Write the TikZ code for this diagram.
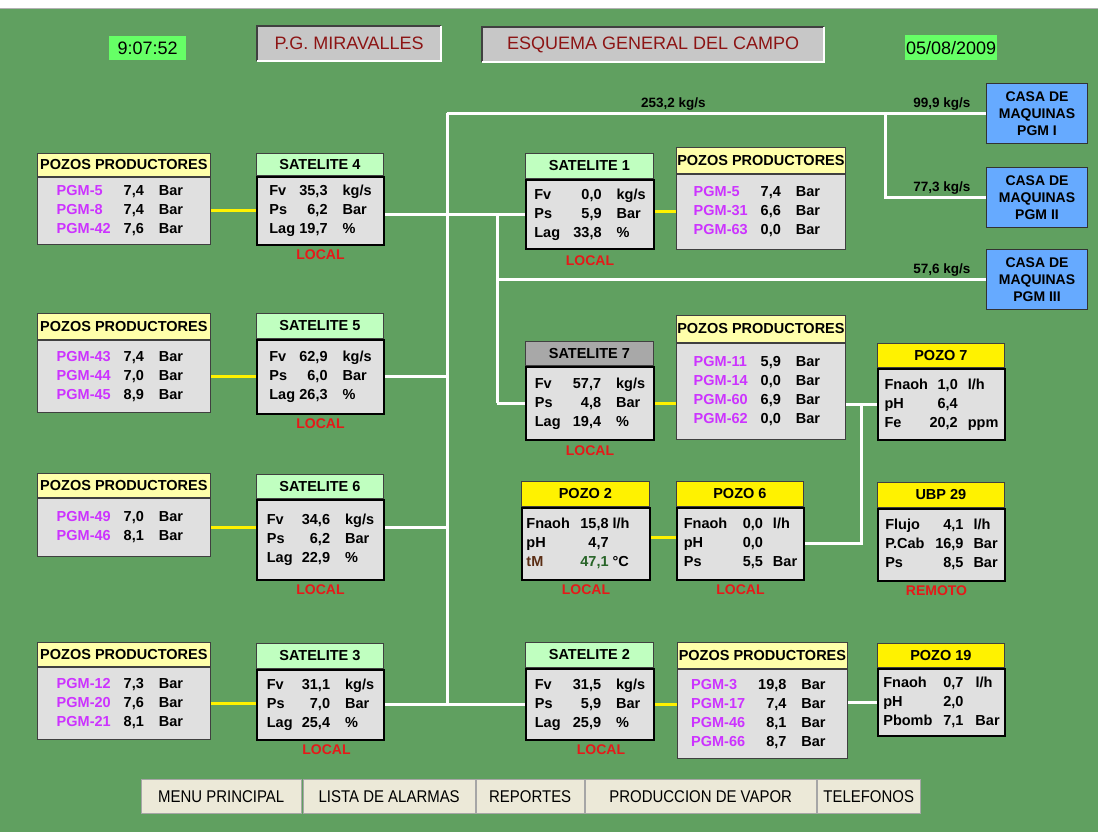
\documentclass[tikz,border=0pt]{standalone}
\usepackage{fontspec}
\setmainfont{Liberation Sans}
\newfontfamily\narrowfont[FakeStretch=0.88]{Liberation Sans}
\usetikzlibrary{positioning}

\definecolor{fondo}{RGB}{96,160,96}
\definecolor{ppamarillo}{RGB}{255,255,170}
\definecolor{satverde}{RGB}{192,255,192}
\definecolor{satgris}{RGB}{168,168,168}
\definecolor{cuerpo}{RGB}{224,224,224}
\definecolor{pgmmag}{RGB}{204,51,255}
\definecolor{rojolocal}{RGB}{230,25,25}
\definecolor{rojotitulo}{RGB}{140,20,20}
\definecolor{reloj}{RGB}{102,255,102}
\definecolor{casaazul}{RGB}{102,170,255}
\definecolor{botonbeige}{RGB}{236,233,216}
\definecolor{tmcafe}{RGB}{90,45,20}
\definecolor{tmverde}{RGB}{40,100,40}

\newcommand{\dfont}{\bfseries\fontsize{14.5}{19}\selectfont}
% filas de pozos y de satelites
\newcommand{\pozos}[1]{\begin{tabular}{@{}p{67pt}@{}r@{\hspace{15pt}}l@{\hspace{8pt}}}#1\end{tabular}}
\newcommand{\pgm}[2]{\textcolor{pgmmag}{PGM-#1}&#2&Bar\\}
\newcommand{\satdatos}[4]{\begin{tabular}{@{}p{#1}@{}r@{\hspace{15pt}}l@{}}Fv&#2&kg/s\\Ps&#3&Bar\\Lag&#4&\%\end{tabular}}
% caja: nombre, x, y, ancho, estilo, alto cabecera, titulo, alto cuerpo, datos
\newcommand{\caja}[9]{%
  \node[#5 head, minimum width=#4, minimum height=#6, anchor=north west] (#1h) at (#2,#3) {#7};
  \node[#5 body, minimum width=#4, minimum height=#8, anchor=north west] (#1b) at (#1h.south west) {#9};}

\tikzset{
  cab/.style={draw=black!75, line width=0.8, inner sep=0, font=\bfseries\fontsize{14.5}{16}\selectfont},
  pp head/.style={cab, fill=ppamarillo},
  sat head/.style={cab, fill=satverde},
  gris head/.style={cab, fill=satgris},
  pozo head/.style={cab, fill=yellow},
  pp body/.style={draw=black!75, line width=0.8, fill=cuerpo, inner sep=0, font=\dfont},
  sat body/.style={pp body, draw=black, line width=2},
  gris body/.style={sat body},
  pozo body/.style={sat body},
  estado/.style={text=rojolocal, font=\bfseries\fontsize{14}{16}\selectfont, inner sep=0},
  vapor/.style={white, line width=3},
  ramal/.style={yellow, line width=3},
  flujo/.style={text=black, font=\bfseries\fontsize{13.5}{16}\selectfont, inner sep=2},
  casa/.style={draw=black!80, fill=casaazul, line width=1, align=center, minimum width=101,
    minimum height=60, inner sep=0, font=\bfseries\fontsize{14}{17}\selectfont, anchor=north west},
  titulo/.style={fill=black!22, text=rojotitulo, font=\fontsize{18}{20}\selectfont, inner sep=0, anchor=north west},
  hora/.style={fill=reloj, font=\fontsize{18}{20}\selectfont, inner sep=0, anchor=north west},
  boton/.style={fill=botonbeige, draw=black!35, inner sep=0, minimum height=34, anchor=north west,
    font=\narrowfont\fontsize{17}{20}\selectfont},
}

\begin{document}
\begin{tikzpicture}
[x=1pt,y=-1pt]
\fill[fondo] (0,0) rectangle (1098,832);
\useasboundingbox (0,0) rectangle (1098,832);
\fill[white] (0,0) rectangle (1098,8);
\draw[black!30] (0,8) -- (1098,8);

% cabecera
\node[hora, minimum width=77, minimum height=24] (hora) at (109,36) {9:07:52};
\node[titulo, minimum width=184, minimum height=35] (central) at (257,26) {P.G. MIRAVALLES};
\node[titulo, minimum width=342, minimum height=35] (esquema) at (482,27) {ESQUEMA GENERAL DEL CAMPO};
\node[hora, minimum width=92, minimum height=25] (fecha) at (905,35) {05/08/2009};
\draw[black!75, line width=2] (central.south west) -- (central.north west) -- (central.north east);
\draw[white, line width=2] (central.north east) -- (central.south east) -- (central.south west);
\draw[black!75, line width=2] (esquema.south west) -- (esquema.north west) -- (esquema.north east);
\draw[white, line width=2] (esquema.north east) -- (esquema.south east) -- (esquema.south west);

% casas de maquinas
\node[casa] (casa1) at (986,83) {CASA DE\\MAQUINAS\\PGM I};
\node[casa] (casa2) at (986,167) {CASA DE\\MAQUINAS\\PGM II};
\node[casa] (casa3) at (986,249) {CASA DE\\MAQUINAS\\PGM III};

% columna izquierda
\caja{pp4}{37}{153}{173}{pp}{23}{POZOS PRODUCTORES}{67}{\pozos{\pgm{5}{7,4}\pgm{8}{7,4}\pgm{42}{7,6}}}
\caja{sat4}{256}{153}{127}{sat}{22}{SATELITE 4}{68}{\satdatos{30pt}{35,3}{6,2}{19,7}}
\caja{pp5}{37}{313}{173}{pp}{26}{POZOS PRODUCTORES}{72}{\pozos{\pgm{43}{7,4}\pgm{44}{7,0}\pgm{45}{8,9}}}
\caja{sat5}{256}{313}{127}{sat}{25}{SATELITE 5}{74}{\satdatos{30pt}{62,9}{6,0}{26,3}}
\caja{pp6}{37}{473}{173}{pp}{24}{POZOS PRODUCTORES}{58}{\pozos{\pgm{49}{7,0}\pgm{46}{8,1}}}
\caja{sat6}{256}{474}{127}{sat}{24}{SATELITE 6}{80}{\satdatos{35pt}{34,6}{6,2}{22,9}}
\caja{pp3}{37}{642}{173}{pp}{24}{POZOS PRODUCTORES}{72}{\pozos{\pgm{12}{7,3}\pgm{20}{7,6}\pgm{21}{8,1}}}
\caja{sat3}{256}{643}{127}{sat}{25}{SATELITE 3}{70}{\satdatos{35pt}{31,1}{7,0}{25,4}}

% columna central
\caja{sat1}{525}{153}{128}{sat}{25}{SATELITE 1}{69}{\satdatos{39pt}{0,0}{5,9}{33,8}}
\caja{pp1}{676}{147}{169}{pp}{26}{POZOS PRODUCTORES}{75}{\pozos{\pgm{5}{7,4}\pgm{31}{6,6}\pgm{63}{0,0}}}
\caja{sat7}{525}{341}{128}{gris}{24}{SATELITE 7}{73}{\satdatos{38pt}{57,7}{4,8}{19,4}}
\caja{pp7}{676}{315}{169}{pp}{27}{POZOS PRODUCTORES}{96}{\pozos{\pgm{11}{5,9}\pgm{14}{0,0}\pgm{60}{6,9}\pgm{62}{0,0}}}
\caja{pozo2}{521}{481}{128}{pozo}{25}{POZO 2}{72}{\begin{tabular}{@{}p{54pt}@{}r@{\hspace{4pt}}l@{\hspace{16pt}}}Fnaoh&15,8&l/h\\pH&4,7&\\\textcolor{tmcafe}{tM}&\textcolor{tmverde}{47,1}&°C\end{tabular}}
\caja{pozo6}{676}{481}{127}{pozo}{25}{POZO 6}{72}{\begin{tabular}{@{}p{59pt}@{}r@{\hspace{10pt}}l@{}}Fnaoh&0,0&l/h\\pH&0,0&\\Ps&5,5&Bar\end{tabular}}
\caja{sat2}{525}{642}{128}{sat}{25}{SATELITE 2}{71}{\satdatos{38pt}{31,5}{5,9}{25,9}}
\caja{pp2}{677}{642}{170}{pp}{26}{POZOS PRODUCTORES}{89}{\pozos{\pgm{3}{19,8}\pgm{17}{7,4}\pgm{46}{8,1}\pgm{66}{8,7}}}

% columna derecha
\caja{pozo7}{877}{343}{127}{pozo}{24}{POZO 7}{71}{\begin{tabular}{@{}p{45pt}@{}r@{\hspace{10pt}}l@{}}Fnaoh&1,0&l/h\\pH&6,4&\\Fe&20,2&ppm\end{tabular}}
\caja{ubp29}{877}{482}{127}{pozo}{25}{UBP 29}{72}{\begin{tabular}{@{}p{50pt}@{}r@{\hspace{10pt}}l@{}}Flujo&4,1&l/h\\P.Cab&16,9&Bar\\Ps&8,5&Bar\end{tabular}}
\caja{pozo19}{877}{643}{127}{pozo}{24}{POZO 19}{67}{\begin{tabular}{@{}p{60pt}@{}r@{\hspace{12pt}}l@{}}Fnaoh&0,7&l/h\\pH&2,0&\\Pbomb&7,1&Bar\end{tabular}}

% estados
\node[estado, below=4pt of sat4b] (sat4e) {LOCAL};
\node[estado, below=4pt of sat5b] (sat5e) {LOCAL};
\node[estado, below=4pt of sat6b] (sat6e) {LOCAL};
\node[estado, below=4pt of sat3b, xshift=6pt] (sat3e) {LOCAL};
\node[estado, below=6pt of sat1b] (sat1e) {LOCAL};
\node[estado, below=5pt of sat7b] (sat7e) {LOCAL};
\node[estado, below=4pt of pozo2b] (pozo2e) {LOCAL};
\node[estado, below=4pt of pozo6b] (pozo6e) {LOCAL};
\node[estado, below=4pt of ubp29b, xshift=-5pt] (ubp29e) {REMOTO};
\node[estado, below=4pt of sat2b, xshift=11pt] (sat2e) {LOCAL};

% lineas de vapor
\coordinate (x1) at (447,0);
\coordinate (x2) at (497,0);
\coordinate (x3) at (885,0);
\coordinate (x4) at (861,0);
\draw[vapor] (casa1.west -| x1) -- (sat3b.east -| x1);
\draw[vapor] (casa1.west -| x1) -- node[flujo, above, pos=.42]{253,2 kg/s}
  node[flujo, at end, anchor=south east, xshift=-12pt]{99,9 kg/s} (casa1.west);
\draw[vapor] (casa1.west -| x3) |- node[flujo, at end, anchor=south east, xshift=-12pt]{77,3 kg/s} (casa2.west);
\draw[vapor] (sat1b.west -| x2) -- (sat7b.west -| x2);
\draw[vapor] (casa3.west -| x2) -- node[flujo, at end, anchor=south east, xshift=-12pt]{57,6 kg/s} (casa3.west);
\draw[vapor] (sat4b.east |- sat1b.west) -- (sat1b.west);
\draw[vapor] (sat5b.east) -- (sat5b.east -| x1);
\draw[vapor] (sat6b.east |- pp6b.east) -- (pp6b.east -| x1);
\draw[vapor] (sat3b.east) -- (sat3b.east -| sat2b.west);
\draw[vapor] (sat7b.west -| x2) -- (sat7b.west);
\draw[vapor] (pp7b.east |- pozo7b.west) -- (pozo7b.west);
\draw[vapor] (pozo6b.east) -| (x4 |- pozo7b.west);
\draw[vapor] (pp2b.east |- pozo19b.west) -- (pozo19b.west);

% ramales de pozos
\draw[ramal] (pp4b.east) -- (pp4b.east -| sat4b.west);
\draw[ramal] (pp5b.east) -- (pp5b.east -| sat5b.west);
\draw[ramal] (pp6b.east) -- (pp6b.east -| sat6b.west);
\draw[ramal] (pp3b.east) -- (pp3b.east -| sat3b.west);
\draw[ramal] (sat1b.east |- pp1b.west) -- (pp1b.west);
\draw[ramal] (sat7b.east) -- (sat7b.east -| pp7b.west);
\draw[ramal] (sat2b.east) -- (sat2b.east -| pp2b.west);
\draw[ramal] ([yshift=6pt]pozo2b.east) -- ([yshift=6pt]pozo6b.west);

% botones
\node[boton, minimum width=160] (menu) at (141,779) {MENU PRINCIPAL};
\node[boton, minimum width=172] (alarmas) at (303,779) {LISTA DE ALARMAS};
\node[boton, minimum width=108] (reportes) at (476,779) {REPORTES};
\node[boton, minimum width=231] (produccion) at (585,779) {PRODUCCION DE VAPOR};
\node[boton, minimum width=103] (telefonos) at (817,779) {TELEFONOS};
\end{tikzpicture}
\end{document}
